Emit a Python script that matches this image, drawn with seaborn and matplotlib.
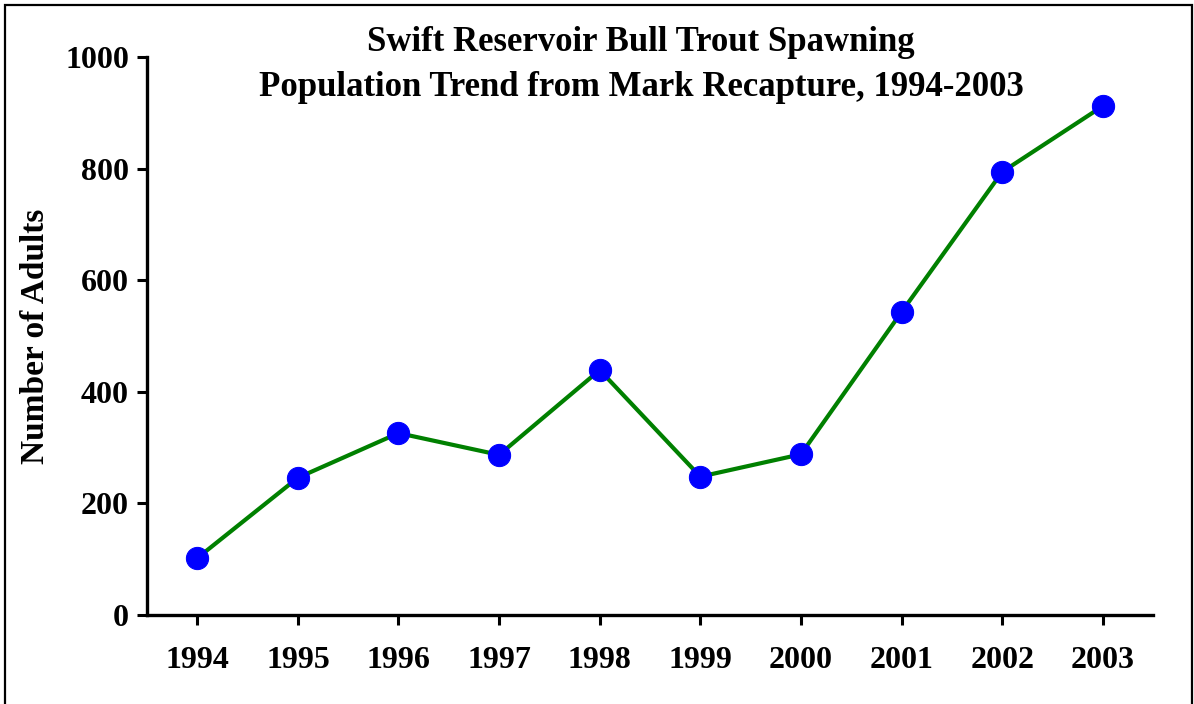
import numpy as np
import pandas as pd
import matplotlib
matplotlib.use("Agg")
import matplotlib.pyplot as plt
import seaborn as sns
from matplotlib.patches import Rectangle

# data
years = [1994, 1995, 1996, 1997, 1998, 1999, 2000, 2001, 2002, 2003]
adults = [102, 246, 326, 287, 439, 248, 288, 543, 794, 912]
y_ticks = [0, 200, 400, 600, 800, 1000]

sns.set_theme(style="white")
plt.rcParams['font.family'] = ['Liberation Serif', 'DejaVu Serif']
plt.rcParams['font.weight'] = 'bold'
plt.rcParams['text.color'] = 'black'
plt.rcParams['axes.labelcolor'] = 'black'

df = pd.DataFrame({'year': years, 'adults': adults})

fig = plt.figure(figsize=(11.94, 7.04), dpi=100)
ax = fig.add_axes([0.1231, 0.1264, 0.8426, 0.7926])

sns.lineplot(data=df, x='year', y='adults', ax=ax, color='#008000',
             linewidth=3.0, marker='o', markersize=16,
             markerfacecolor='#0000ff', markeredgecolor='#0000ff')

ax.set_xlim(1993.5, 2003.5)
ax.set_ylim(0, 1000)
ax.set_xticks(years)
ax.set_xticklabels([str(y) for y in years])
ax.set_yticks(y_ticks)
ax.set_xlabel('')
ax.set_ylabel('Number of Adults', fontsize=24, fontweight='bold', color='black',
              labelpad=10)

for side in ['top', 'right']:
    ax.spines[side].set_visible(False)
for side in ['left', 'bottom']:
    ax.spines[side].set_linewidth(2.4)
    ax.spines[side].set_color('black')

ax.tick_params(axis='both', direction='out', length=7, width=2.2, colors='black',
               labelsize=23, left=True, bottom=True)
ax.tick_params(axis='x', pad=15)
ax.tick_params(axis='y', pad=6)
for lab in ax.get_xticklabels() + ax.get_yticklabels():
    lab.set_fontweight('bold')

fig.text(0.537, 0.94, 'Swift Reservoir Bull Trout Spawning', ha='center', va='center',
         fontsize=25, fontweight='bold', color='black')
fig.text(0.537, 0.876, 'Population Trend from Mark Recapture, 1994-2003', ha='center',
         va='center', fontsize=25, fontweight='bold', color='black')

# outer frame
fig.patches.append(Rectangle((5 / 1194, -0.05), (1192 - 5) / 1194, 1.05 - 5 / 704,
                             transform=fig.transFigure, fill=False,
                             edgecolor='black', linewidth=1.6))

fig.savefig('out.png', dpi=100)
